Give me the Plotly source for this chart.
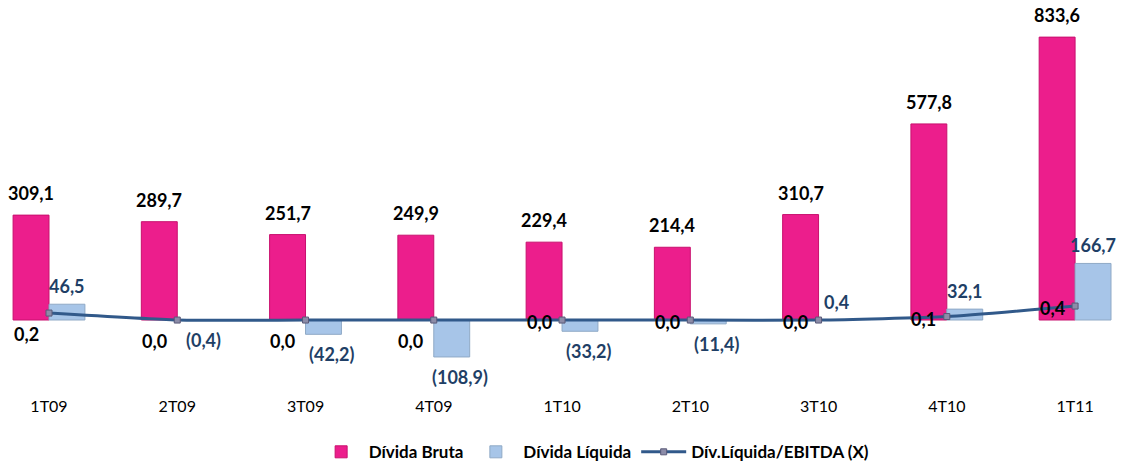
import plotly.graph_objects as go

# quarters
categories = ["1T09", "2T09", "3T09", "4T09", "1T10", "2T10", "3T10", "4T10", "1T11"]
# R$ milhões
divida_bruta = [309.1, 289.7, 251.7, 249.9, 229.4, 214.4, 310.7, 577.8, 833.6]
divida_liquida = [46.5, -0.4, -42.2, -108.9, -33.2, -11.4, 0.4, 32.1, 166.7]
# multiple (X)
div_ebitda = [0.2, 0.0, 0.0, 0.0, 0.0, 0.0, 0.0, 0.1, 0.4]

FONT = "Lato"
MAGENTA = "#EC1E8C"
LIGHT_BLUE = "#A7C5E8"
NAVY = "#1F3F66"
LINE_BLUE = "#31598A"


def fmt(v):
    s = f"{abs(v):.1f}".replace(".", ",")
    return f"({s})" if v < 0 else s


x = list(range(len(categories)))

fig = go.Figure()

fig.add_trace(go.Bar(
    x=x, y=divida_bruta, name="Dívida Bruta",
    marker=dict(color=MAGENTA, line=dict(color="#C8106E", width=1)),
))
fig.add_trace(go.Bar(
    x=x, y=divida_liquida, name="Dívida Líquida",
    marker=dict(color=LIGHT_BLUE, line=dict(color="#8FA9C6", width=1)),
))
fig.add_trace(go.Scatter(
    x=x, y=div_ebitda, name="Dív.Líquida/EBITDA (X)", yaxis="y2",
    mode="lines+markers",
    line=dict(color=LINE_BLUE, width=3, shape="spline", smoothing=0.5),
    marker=dict(symbol="square", size=6, color="#8C8CA8",
                line=dict(color="#5A5A78", width=1)),
))

label_font = dict(family=FONT, size=18, weight="bold")

# data labels for the bars
for i, v in enumerate(divida_bruta):
    fig.add_annotation(x=i - 0.14, y=v, text=fmt(v), showarrow=False,
                       yshift=22, font=dict(label_font, color="black"))
for i, v in enumerate(divida_liquida):
    if v >= 0:
        fig.add_annotation(x=i + 0.14, y=v, text=fmt(v), showarrow=False,
                           yshift=18, font=dict(label_font, color=NAVY))
    else:
        fig.add_annotation(x=i + 0.14, y=v, text=fmt(v), showarrow=False,
                           yshift=-20, xshift=8, font=dict(label_font, color=NAVY))

# ratio labels: below-left on the first four points, left of the point afterwards
for i, v in enumerate(div_ebitda):
    fig.add_annotation(x=i, y=v, xref="x", yref="y2", text=fmt(v), showarrow=False,
                       xshift=-23, yshift=-21 if i < 4 else -2,
                       font=dict(label_font, color="black"))

fig.update_layout(
    width=1121, height=463,
    margin=dict(l=0, r=0, t=0, b=68, autoexpand=False),
    paper_bgcolor="white", plot_bgcolor="white",
    barmode="group", bargap=0.44, bargroupgap=0,
    font=dict(family=FONT, size=15, color="black"),
    xaxis=dict(range=[-0.382, 8.358], tickmode="array", tickvals=x, ticktext=categories,
               showgrid=False, zeroline=False, showline=False, ticks="",
               tickfont=dict(family=FONT, size=16, color="black")),
    yaxis=dict(range=[-221, 943], visible=False, showgrid=False, zeroline=False),
    yaxis2=dict(range=[-2.14, 9.14], overlaying="y", visible=False,
                showgrid=False, zeroline=False),
    legend=dict(orientation="h", x=0.53, xanchor="center", y=-0.145, yanchor="middle",
                font=dict(family=FONT, size=17, color="black", weight="bold"),
                traceorder="normal", itemwidth=45),
    showlegend=True,
)

# drop the default page margin so the figure sits at the window corner
fig.write_html("out.html", config={"displayModeBar": False},
               post_script="document.body.style.margin='0';")
